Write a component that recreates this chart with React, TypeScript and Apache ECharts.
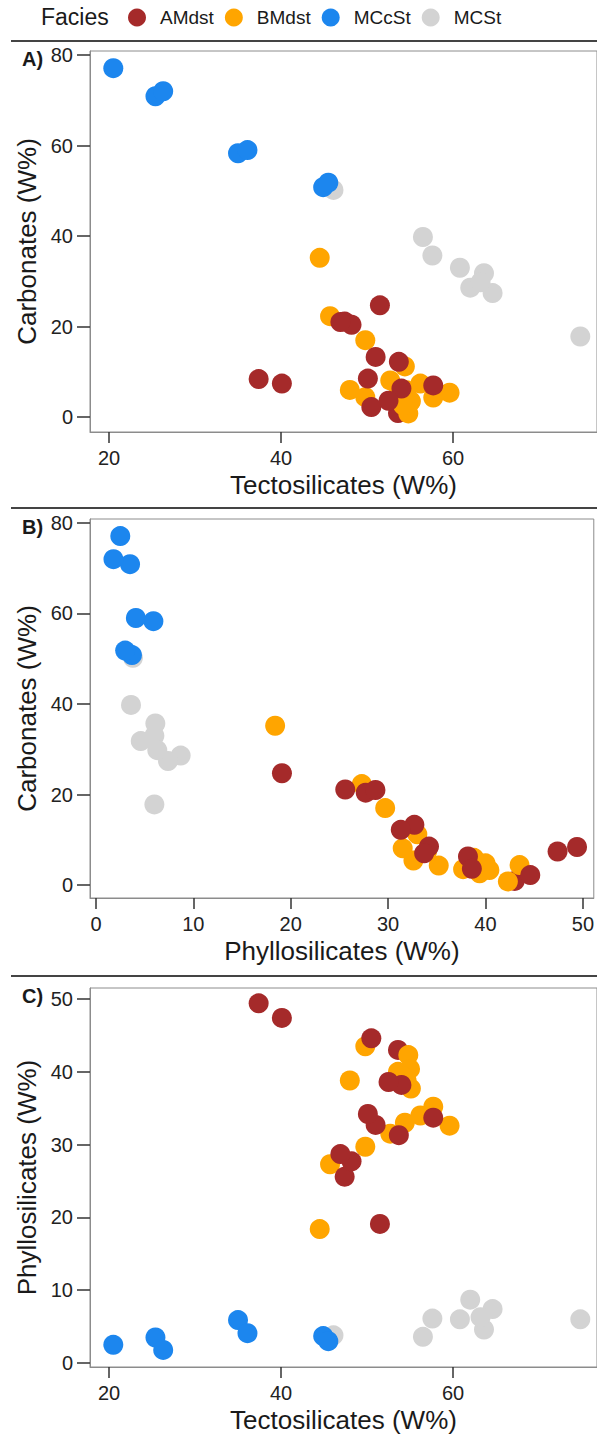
import React, { useEffect, useRef } from "react";
import * as echarts from "echarts";

const FONT = "'Liberation Sans', Arial, Helvetica, sans-serif";

const FACIES = ["AMdst", "BMdst", "MCcSt", "MCSt"];
const COLORS: Record<string, string> = {
  AMdst: "#A52A2A",
  BMdst: "#FFA500",
  MCcSt: "#1C86EE",
  MCSt: "#D3D3D3",
};

// AMdst samples
const amTecto = [37.4, 40.1, 47.4, 48.2, 46.9, 51.5, 51.0, 53.7, 50.1, 54.0, 57.7, 52.5, 50.5, 53.6];
const amCarb = [8.4, 7.4, 21.1, 20.4, 21.0, 24.7, 13.3, 12.2, 8.5, 6.3, 7.0, 3.6, 2.2, 0.9];
const amPhyl = [49.4, 47.4, 25.6, 27.7, 28.7, 19.1, 32.7, 31.3, 34.2, 38.2, 33.7, 38.6, 44.6, 43.0];

// BMdst samples
const bmTecto = [44.5, 45.7, 49.8, 54.4, 52.7, 48.0, 49.8, 56.2, 59.6, 57.7, 54.8, 55.1, 53.6, 54.6, 55.0, 54.2];
const bmCarb = [35.2, 22.3, 17.0, 11.2, 8.1, 6.0, 4.4, 7.4, 5.4, 4.3, 0.8, 3.5, 4.8, 5.9, 3.3, 2.6];
const bmPhyl = [18.4, 27.3, 29.7, 33.0, 31.5, 38.8, 43.5, 34.0, 32.6, 35.2, 42.3, 37.7, 40.0, 38.8, 40.4, 39.4];

// MCcSt samples
const mccTecto = [20.5, 25.4, 26.3, 35.0, 36.1, 44.9, 45.5];
const mccCarb = [77.1, 70.9, 72.0, 58.3, 59.0, 50.8, 51.8];
const mccPhyl = [2.5, 3.5, 1.8, 5.9, 4.1, 3.7, 3.0];

// MCSt samples
const mcsTecto = [46.1, 56.5, 57.6, 60.8, 62.0, 63.6, 64.6, 74.8, 63.2];
const mcsCarb = [50.2, 39.8, 35.7, 33.0, 28.6, 31.8, 27.4, 17.8, 29.8];
const mcsPhyl = [3.8, 3.6, 6.1, 6.0, 8.7, 4.6, 7.4, 6.0, 6.3];

const tectoTicks = [20, 40, 60];
const carbTicks = [0, 20, 40, 60, 80];
const phylTicks = [0, 10, 20, 30, 40, 50];

const SAMPLES: Record<string, { tecto: number[]; carb: number[]; phyl: number[] }> = {
  AMdst: { tecto: amTecto, carb: amCarb, phyl: amPhyl },
  BMdst: { tecto: bmTecto, carb: bmCarb, phyl: bmPhyl },
  MCcSt: { tecto: mccTecto, carb: mccCarb, phyl: mccPhyl },
  MCSt: { tecto: mcsTecto, carb: mcsCarb, phyl: mcsPhyl },
};

const PANELS = [
  { label: "A)", x: "tecto", y: "carb", xName: "Tectosilicates (W%)", yName: "Carbonates (W%)", xMin: 17.79, xMax: 76.74, yMin: -3.3, yMax: 80.9, xTicks: tectoTicks, yTicks: carbTicks, top: 51, height: 381, sep: 41 },
  { label: "B)", x: "phyl", y: "carb", xName: "Phyllosilicates (W%)", yName: "Carbonates (W%)", xMin: -0.61, xMax: 51.12, yMin: -2.87, yMax: 80.88, xTicks: phylTicks, yTicks: carbTicks, top: 519, height: 379, sep: 508 },
  { label: "C)", x: "tecto", y: "phyl", xName: "Tectosilicates (W%)", yName: "Phyllosilicates (W%)", xMin: 17.79, xMax: 76.74, yMin: -0.55, yMax: 51.51, xTicks: tectoTicks, yTicks: phylTicks, top: 988, height: 379, sep: 976 },
];

// drawing order (bottom to top); the last AMdst sample sits beneath the BMdst points
const amLow = [13];
const DRAW_ORDER: { f: string; pick: (k: number) => boolean }[] = [
  { f: "MCSt", pick: () => true },
  { f: "AMdst", pick: (k) => amLow.includes(k) },
  { f: "BMdst", pick: () => true },
  { f: "AMdst", pick: (k) => !amLow.includes(k) },
  { f: "MCcSt", pick: () => true },
];

function makeAxis(gridIndex: number, min: number, max: number, ticks: number[], name: string, isY: boolean) {
  return {
    type: "value",
    gridIndex,
    min,
    max,
    name,
    nameLocation: "middle",
    nameGap: isY ? 47 : 40,
    nameRotate: isY ? 90 : 0,
    nameTextStyle: { fontSize: 26, color: "#1a1a1a", fontFamily: FONT },
    axisLine: { show: true, onZero: false, lineStyle: { color: "#8c8c8c", width: 1 } },
    axisTick: { show: true, customValues: ticks, length: isY ? 13 : 11, inside: false, lineStyle: { color: "#333", width: 1.5 } },
    axisLabel: { show: true, customValues: ticks, margin: isY ? 17 : 16, fontSize: 20, color: "#222", fontFamily: FONT },
    splitLine: { show: false },
  };
}

export default function App() {
  const ref = useRef<HTMLDivElement>(null);
  useEffect(() => {
    if (!ref.current) return;
    const chart = echarts.init(ref.current, undefined, { renderer: "svg" });
    const grids = PANELS.map((p) => ({
      left: 90,
      right: 0,
      top: p.top,
      height: p.height,
      show: true,
      borderColor: "#8c8c8c",
      borderWidth: 1,
      backgroundColor: "#fff",
    }));
    const xAxes = PANELS.map((p, i) => makeAxis(i, p.xMin, p.xMax, p.xTicks, p.xName, false));
    const yAxes = PANELS.map((p, i) => makeAxis(i, p.yMin, p.yMax, p.yTicks, p.yName, true));
    const series: any[] = [];
    PANELS.forEach((p, i) => {
      DRAW_ORDER.forEach(({ f, pick }) => {
        const s: any = SAMPLES[f];
        const xs: number[] = s[p.x];
        const ys: number[] = s[p.y];
        const data: number[][] = [];
        xs.forEach((v, k) => {
          if (pick(k)) data.push([v, ys[k]]);
        });
        series.push({
          type: "scatter",
          name: f,
          xAxisIndex: i,
          yAxisIndex: i,
          symbol: "circle",
          symbolSize: 20,
          itemStyle: { color: COLORS[f], opacity: 1 },
          data,
        });
      });
    });
    const graphic: any[] = [
      {
        type: "text",
        x: 41,
        y: 17,
        style: { text: "Facies", fontSize: 23, fontFamily: FONT, fill: "#1a1a1a", verticalAlign: "middle", align: "left" },
      },
    ];
    PANELS.forEach((p) => {
      graphic.push({
        type: "line",
        shape: { x1: 11, y1: p.sep, x2: 597, y2: p.sep },
        style: { stroke: "#444", lineWidth: 2 },
      });
      graphic.push({
        type: "text",
        x: 22,
        y: p.top + 8,
        style: { text: p.label, fontSize: 20, fontWeight: "bold", fontFamily: FONT, fill: "#1a1a1a", verticalAlign: "middle", align: "left" },
      });
    });
    chart.setOption({
      animation: false,
      backgroundColor: "#fff",
      legend: {
        data: FACIES,
        left: 128,
        top: 8,
        padding: 0,
        itemWidth: 18,
        itemHeight: 18,
        itemGap: 11,
        icon: "circle",
        selectedMode: false,
        textStyle: { fontSize: 19, color: "#1a1a1a", fontFamily: FONT, padding: [0, 0, 0, 9] },
      },
      grid: grids,
      xAxis: xAxes,
      yAxis: yAxes,
      series,
      graphic,
    });
    return () => chart.dispose();
  }, []);
  return <div ref={ref} style={{ position: "absolute", left: 0, top: 0, width: 597, height: 1435, background: "#fff" }} />;
}
